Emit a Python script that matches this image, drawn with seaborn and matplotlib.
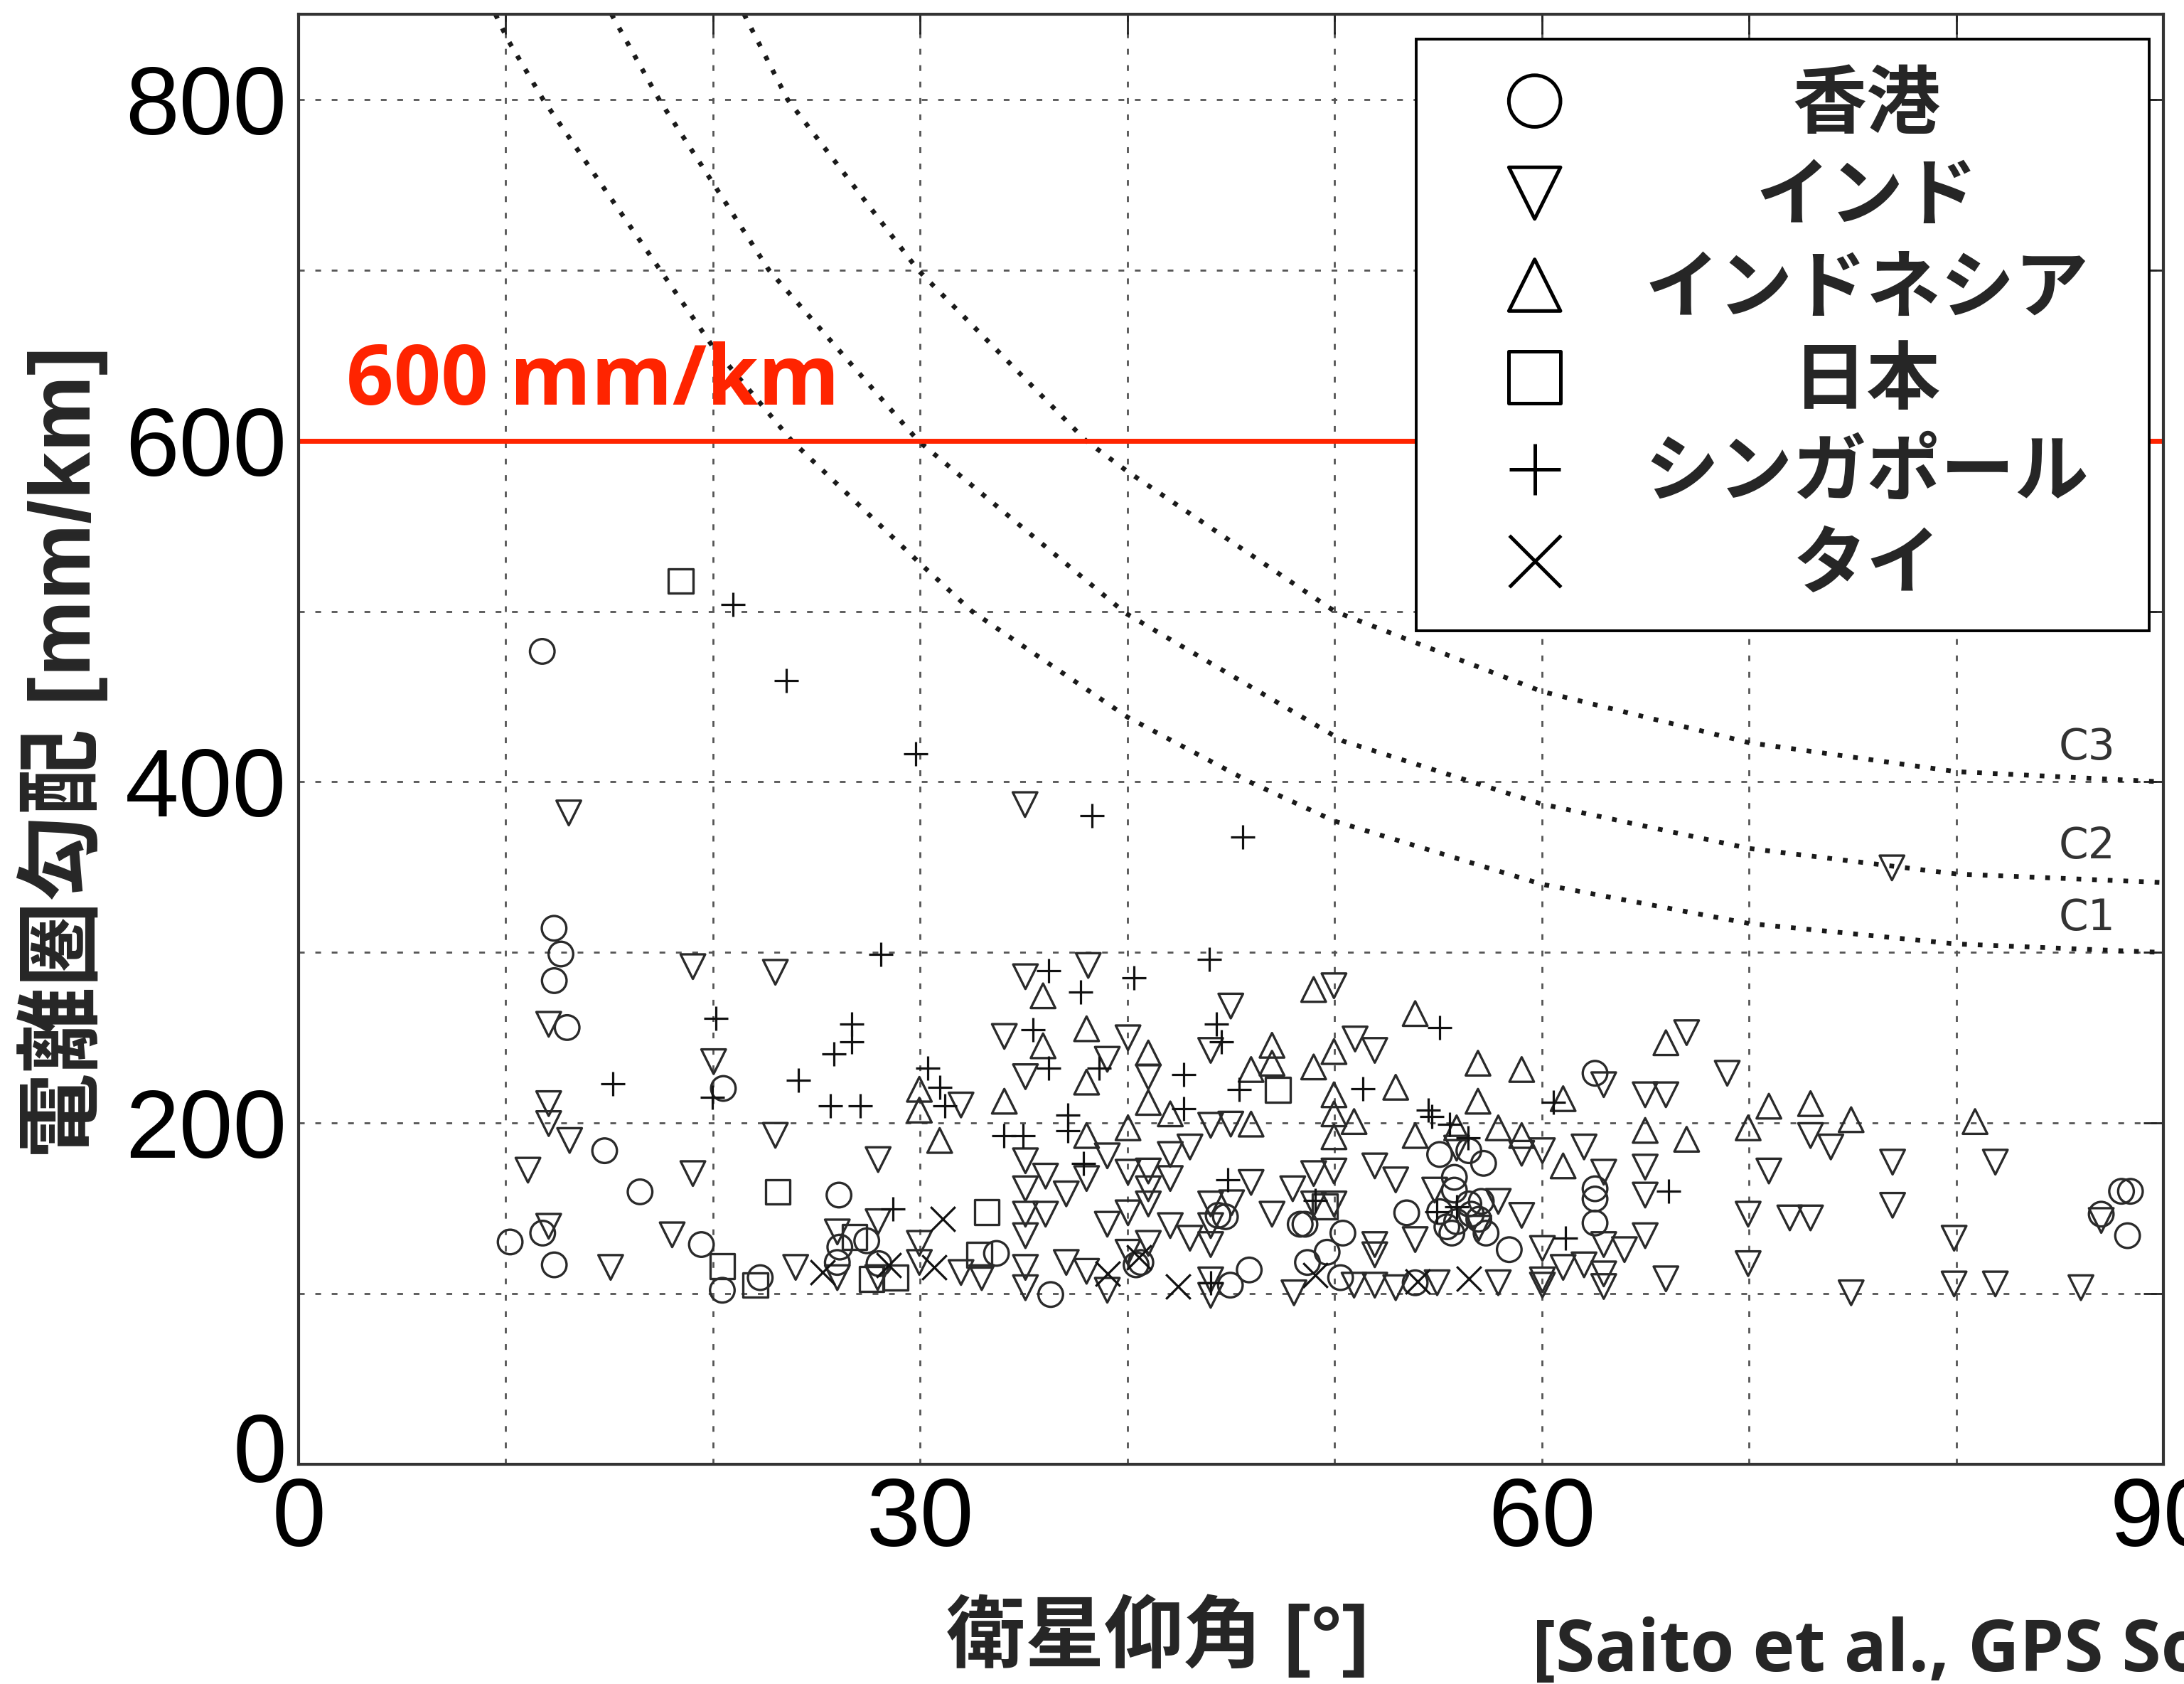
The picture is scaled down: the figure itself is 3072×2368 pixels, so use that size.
import matplotlib
matplotlib.use("Agg")
import matplotlib.pyplot as plt
from matplotlib.font_manager import FontProperties
from matplotlib.transforms import Affine2D, ScaledTranslation
import seaborn as sns

# ---------------- data ----------------
countries = ["香港", "インド", "インドネシア", "日本", "シンガポール", "タイ"]

hk_x = [11.76, 12.33, 12.66, 12.34, 12.96, 14.77, 16.48, 11.78, 10.21, 12.34,
        20.50, 26.08, 19.44, 20.45, 22.28, 26.12, 26.00, 27.42, 28.01, 33.68, 36.30,
        48.34, 48.57, 50.40, 53.48, 48.69, 49.64, 50.29, 53.89, 44.38, 44.73, 40.42,
        40.65, 44.97, 45.88,
        55.07, 56.48, 57.19, 62.57, 62.57, 62.57, 62.57, 58.43, 57.31, 55.66, 55.78,
        55.78, 55.07, 56.60, 56.96, 55.89, 57.08, 56.48, 55.42,
        87.98, 88.41, 87.00, 88.27]
hk_y = [476.5, 314.2, 299.1, 283.5, 256.0, 183.8, 159.7, 135.5, 130.3, 116.9,
        220.3, 157.8, 128.8, 102.0, 109.4, 127.3, 118.3, 131.0, 117.6, 123.6, 99.5,
        140.7, 140.7, 135.5, 147.4, 118.3, 124.3, 109.4, 106.4, 145.9, 145.1, 116.9,
        118.3, 105.0, 113.9,
        181.6, 183.8, 176.4, 229.2, 161.5, 155.5, 141.4, 125.8, 135.5, 135.5, 168.2,
        160.7, 148.1, 146.6, 143.6, 142.2, 154.1, 152.6, 139.2,
        160.0, 160.0, 146.6, 134.0]

in_x = [13.04, 35.06, 76.90,
        12.07, 12.07, 12.07, 13.08, 11.07, 12.07, 15.06, 18.03,
        19.03, 23.01, 20.03, 31.97, 23.01, 27.97, 19.03, 27.97,
        35.08, 34.06, 35.08, 35.08, 36.05, 35.08, 35.08, 36.05, 35.08, 35.08, 35.08,
        23.99, 26.00, 26.00, 27.95, 29.96, 29.96, 31.97, 32.97,
        38.11, 40.03, 39.03, 44.99, 44.02, 41.01, 39.03, 38.03, 37.05, 40.03, 41.01,
        42.07, 42.07, 43.02, 41.01, 44.02, 44.99, 49.97, 50.99, 51.94, 51.94, 52.95,
        48.99, 49.97, 47.98, 45.97, 46.98, 48.99, 49.97, 53.89, 51.94, 51.94, 48.04,
        50.94, 51.94, 52.95, 44.02, 45.03, 44.02, 43.02, 44.02, 42.07, 41.01, 40.03,
        39.03, 37.05, 38.03, 39.03, 41.01, 40.03, 44.02, 44.02,
        55.89, 59.03, 60.03, 62.04, 62.99, 64.99, 65.99, 66.99, 68.95, 70.96, 62.99,
        64.99, 64.99, 69.96, 69.96, 64.99, 63.99, 62.99, 60.03, 61.03, 62.04, 62.99,
        62.99, 60.03, 60.03, 65.99, 57.90, 54.95, 54.83, 57.90, 59.03, 56.96,
        72.97, 73.95, 76.93, 81.89, 76.93, 71.97, 72.97, 79.90, 79.90, 81.89, 74.93,
        86.02, 87.00]
in_y = [381.8, 386.7, 349.6,
        257.9, 211.4, 199.7, 189.8, 172.4, 139.5, 115.4, 134.5,
        291.7, 288.4, 236.0, 210.6, 192.8, 178.6, 170.4, 142.2,
        285.8, 250.8, 227.2, 177.9, 168.9, 161.5, 146.6, 146.6, 134.0, 115.4, 103.5,
        115.4, 136.2, 109.4, 109.4, 129.5, 118.3, 112.4, 109.4,
        292.4, 250.0, 237.4, 268.6, 242.6, 227.0, 180.8, 167.5, 158.5, 171.2, 171.9,
        181.6, 167.5, 186.0, 161.5, 198.7, 199.4, 280.5, 249.3, 242.6, 174.9, 166.7,
        170.4, 171.9, 161.5, 165.2, 146.6, 152.6, 152.6, 131.7, 128.8, 122.8, 100.5,
        105.0, 105.0, 103.5, 152.6, 153.3, 139.9, 132.5, 128.8, 139.9, 152.6, 147.4,
        140.7, 118.3, 113.1, 102.0, 129.5, 124.3, 108.1, 99.0,
        185.3, 182.3, 183.8, 186.0, 222.5, 216.6, 216.6, 253.0, 229.2, 171.9, 171.2,
        174.2, 157.8, 146.6, 117.6, 134.0, 125.8, 128.8, 126.5, 115.4, 116.9, 111.6,
        104.2, 108.1, 105.0, 108.7, 106.4, 106.4, 160.7, 154.1, 145.9, 138.4,
        192.7, 186.0, 177.1, 177.1, 151.8, 144.4, 144.4, 132.5, 105.7, 105.7, 100.5,
        103.5, 142.9]

id_x = [29.96, 29.96, 34.06, 30.94, 35.93, 35.93,
        38.03, 38.03, 41.01, 41.01, 42.07, 38.03, 40.03, 45.97, 45.97, 46.98, 46.98,
        48.99, 48.99, 49.97, 53.89, 52.95, 49.97, 49.97, 50.94, 49.97, 53.89,
        56.92, 59.03, 56.92, 55.89, 57.90, 59.03, 61.03, 61.03, 65.99, 70.96, 69.96,
        64.99, 66.99,
        72.97, 74.93, 80.91]
id_y = [219.8, 207.6, 212.8, 189.8, 274.6, 245.3,
        255.3, 224.0, 241.1, 212.1, 205.4, 192.7, 197.2, 199.4, 231.4, 245.6, 235.1,
        278.3, 232.9, 241.9, 264.2, 221.0, 216.6, 205.4, 200.9, 192.0, 192.7,
        235.1, 231.4, 212.8, 197.2, 197.2, 192.7, 174.9, 214.3, 247.1, 209.9, 197.2,
        195.7, 190.5,
        211.4, 202.0, 200.9]

jp_x = [18.45, 23.13, 33.21, 20.45, 22.04, 26.83, 27.65, 28.81, 32.85, 47.27, 49.52]
jp_y = [517.7, 159.7, 147.7, 116.1, 105.0, 133.2, 108.7, 109.4, 122.8, 219.5, 151.1]

sg_x = [20.98, 23.54, 29.77, 38.30, 45.56, 15.18,
        28.10, 20.15, 26.69, 26.69, 25.82, 24.11, 19.97, 25.65, 27.10, 30.37, 30.96,
        31.20, 28.69, 36.20, 35.46, 36.20, 34.04, 34.98,
        40.30, 43.96, 37.76, 38.64, 44.28, 44.55, 42.72, 42.72, 37.11, 37.11, 37.88,
        45.38, 51.35, 44.85, 49.05, 44.02,
        55.07, 54.53, 54.71, 55.54, 56.43, 60.56, 66.12, 61.15, 54.95, 55.89]
sg_y = [504.0, 459.2, 416.3, 380.1, 367.7, 223.2,
        299.1, 261.2, 257.9, 247.5, 240.7, 225.2, 215.1, 209.9, 210.3, 232.2, 221.0,
        209.9, 149.6, 289.3, 254.5, 232.2, 192.7, 192.7,
        285.3, 295.9, 276.8, 232.2, 258.2, 247.5, 228.5, 208.4, 204.7, 195.7, 176.4,
        219.5, 220.3, 166.7, 154.8, 106.4,
        256.0, 207.6, 203.9, 199.4, 191.3, 212.1, 160.0, 132.5, 148.1, 151.1]

th_x = [31.08, 25.29, 28.48, 30.67, 49.05, 39.03, 40.54, 42.43, 56.48, 54.00]
th_y = [143.9, 112.4, 116.9, 115.4, 110.9, 111.6, 121.3, 104.2, 108.7, 107.2]

# threshold curves C1..C3
c1_x = [9.5, 10.1, 11.8, 20.0, 23.8, 30.0, 32.5, 40.0, 45.9, 50.0, 60.0, 70.0, 80.0, 90.0]
c1_y = [850, 835, 800, 655, 600, 528, 500, 438, 400, 377, 340, 317, 305, 300]
c2_x = [15.1, 17.4, 20.0, 22.7, 29.9, 39.9, 50.4, 60.0, 70.0, 80.0, 90.0]
c2_y = [850, 800, 751, 700, 600, 499, 424, 387, 361, 346, 341]
c3_x = [21.5, 23.6, 29.9, 38.0, 40.0, 50.0, 60.0, 70.0, 80.0, 90.0]
c3_y = [850, 800, 700, 600, 582, 500, 453, 423, 406, 400]
curve_labels = ["C1", "C2", "C3"]
curve_label_y = [320, 362, 420]

threshold = 600
threshold_label = "600 mm/km"

xticks = list(range(0, 91, 10))
xtick_labels = ["0", "", "", "30", "", "", "60", "", "", "90"]
yticks = list(range(0, 801, 100))
ytick_labels = ["0", "", "200", "", "400", "", "600", "", "800"]

# ---------------- style ----------------
sns.set_style("white")
plt.rcParams["font.family"] = ["Liberation Sans", "Noto Sans CJK JP", "DejaVu Sans"]

W, H = 3072, 2368
fig = plt.figure(figsize=(W / 100, H / 100), dpi=100)
ax = fig.add_axes([420 / W, 1 - 2059 / H, 2623 / W, 2039 / H])

red = "#ff2400"
mk_col = "#2a2a2a"
ms = 620

groups = [
    (hk_x, hk_y, "o"),
    (in_x, in_y, "v"),
    (id_x, id_y, "^"),
    (jp_x, jp_y, "s"),
    (sg_x, sg_y, "+"),
    (th_x, th_y, "x"),
]

ax.set_xlim(0, 90)
ax.set_ylim(0, 850)
ax.set_xticks(xticks)
ax.set_xticklabels(xtick_labels)
ax.set_yticks(yticks)
ax.set_yticklabels(ytick_labels)
ax.grid(True, color="#555555", linewidth=2.0, linestyle=(0, (2.9, 5.4)))
ax.set_axisbelow(True)

# threshold curves
for cx, cy in [(c1_x, c1_y), (c2_x, c2_y), (c3_x, c3_y)]:
    sns.lineplot(x=cx, y=cy, ax=ax, color="#1a1a1a", linewidth=4.8,
                 linestyle=(0, (1, 2.3)), sort=False, estimator=None)
for lab, ly in zip(curve_labels, curve_label_y):
    ax.text(86.3, ly, lab, ha="center", va="center", fontsize=43,
            color="#333333", family="DejaVu Sans")

# red 600 mm/km line
ax.axhline(threshold, color=red, linewidth=5, zorder=2.5)
ax.text(2.3, 621, threshold_label, color=red, fontsize=84, fontweight="bold",
        family="Open Sans", ha="left", va="baseline")

# scatter points
for (gx, gy, m), name in zip(groups, countries):
    if m in ("+", "x"):
        sns.scatterplot(x=gx, y=gy, marker=m, s=ms, color="#111111",
                        linewidth=2.3, ax=ax, label=name, zorder=3)
    else:
        sns.scatterplot(x=gx, y=gy, marker=m, s=ms, color=mk_col,
                        facecolor="none", edgecolor=mk_col, linewidth=2.4,
                        ax=ax, label=name, zorder=3)

# ticks and spines
ax.tick_params(direction="in", length=20, width=2, top=True, right=True,
               labelsize=98, pad=12, colors="#222222")
for lab in ax.get_xticklabels() + ax.get_yticklabels():
    lab.set_color("black")
for sp in ax.spines.values():
    sp.set_linewidth(3)
    sp.set_color("#333333")
# the y "0" sits a little above the axis corner in the reference
lab0 = ax.yaxis.get_major_ticks()[0].label1
lab0.set_transform(lab0.get_transform() + ScaledTranslation(0, 0.24, fig.dpi_scale_trans))

# axis labels
ax.set_xlabel("衛星仰角 [°]", fontsize=80, fontweight="bold")
ax.xaxis.set_label_coords((1628 - 420) / 2623, (2059 - 2300) / 2039)
ax.xaxis.label.set_va("center")
ax.set_ylabel("電離圏勾配 [mm/km]", fontsize=87, fontweight="bold")
ax.yaxis.set_label_coords((88 - 420) / 2623, (2059 - 1058) / 2039)
ax.yaxis.label.set_va("center")

fig.text(2155 / W, 1 - 2350 / H, "[Saito et al., GPS Solutions]", fontsize=72,
         fontweight="bold", family="Open Sans", ha="left", va="baseline")

# legend
lfont = FontProperties(family="Noto Sans CJK JP", weight="bold", size=75)
leg = ax.legend(loc="upper left", bbox_to_anchor=(1992 / W, 1 - 55 / H),
                bbox_transform=fig.transFigure, borderaxespad=0, prop=lfont,
                markerscale=2.1, scatterpoints=1, scatteryoffsets=[0.5],
                frameon=True, fancybox=False, framealpha=1, edgecolor="black",
                borderpad=0.38, handlelength=2.44, handletextpad=0.70,
                labelspacing=0.225)
leg.get_frame().set_linewidth(2.8)
for h in leg.legend_handles:
    h.set_linewidths([3.6])
    h.set_edgecolor("black")

# centre the legend texts within their column (and nudge the column left)
fig.canvas.draw()
rend = fig.canvas.get_renderer()
texts = leg.get_texts()
widths = [t.get_window_extent(rend).width for t in texts]
wmax = max(widths)
for t, w in zip(texts, widths):
    t.set_transform(t.get_transform() + Affine2D().translate((wmax - w) / 2 - 45, 0))

fig.savefig("out.png", dpi=100)
